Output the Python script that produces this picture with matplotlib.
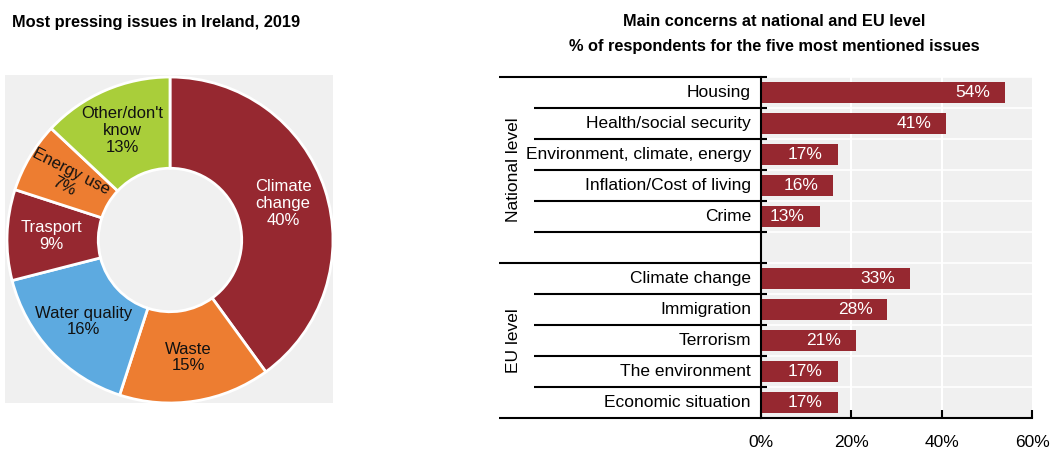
import matplotlib
matplotlib.use("Agg")
import matplotlib.pyplot as plt
import matplotlib.transforms as mtransforms
from matplotlib.patches import Rectangle
import numpy as np

plt.rcParams["font.family"] = ["Liberation Sans Narrow", "Liberation Sans", "DejaVu Sans"]

# left panel: share of respondents naming each issue as most pressing
pie_labels = ["Climate\nchange", "Waste", "Water quality", "Trasport", "Energy use", "Other/don't\nknow"]
pie_values = [40, 15, 16, 9, 7, 13]
pie_colors = ["#962830", "#ED7D31", "#5DAAE0", "#962830", "#ED7D31", "#A9CE3A"]
pie_text_colors = ["white", "#111111", "#111111", "white", "#111111", "#111111"]
pie_text_rot = [0, 0, 0, 0, -27, 0]

# right panel: top five concerns at national and EU level
national_issues = ["Housing", "Health/social security", "Environment, climate, energy",
                   "Inflation/Cost of living", "Crime"]
national_values = [54, 41, 17, 16, 13]
eu_issues = ["Climate change", "Immigration", "Terrorism", "The environment", "Economic situation"]
eu_values = [33, 28, 21, 17, 17]
x_ticks = [0, 20, 40, 60]

RED = "#962830"
GREY_BG = "#F0F0F0"
W, H = 1051, 449

fig = plt.figure(figsize=(W / 100, H / 100), dpi=100)


def px_rect(x0, y0, x1, y1):
    """figure-fraction rect from pixel box (top-left origin)"""
    return [x0 / W, 1 - y1 / H, (x1 - x0) / W, (y1 - y0) / H]


# ---- donut ----
R_PX = 163.0
axp = fig.add_axes(px_rect(0, 70, 340, 410))
wedges, _ = axp.pie(pie_values, colors=pie_colors, startangle=90, counterclock=False,
                    radius=1.0, wedgeprops=dict(width=0.56, edgecolor="white", linewidth=2))
lim = 170 / R_PX
axp.set_xlim(-lim, lim)
axp.set_ylim(-lim, lim)
axp.set_aspect("equal")
axp.axis("off")
axp.add_patch(Rectangle((-165 / R_PX, -163 / R_PX), 328 / R_PX, 328 / R_PX,
                        facecolor=GREY_BG, edgecolor="none", zorder=0))
for w, lab, v, tc, rot in zip(wedges, pie_labels, pie_values, pie_text_colors, pie_text_rot):
    ang = np.deg2rad((w.theta1 + w.theta2) / 2)
    r = 0.73
    axp.text(r * np.cos(ang), r * np.sin(ang), f"{lab}\n{v}%", ha="center", va="center",
             color=tc, fontsize=12, rotation=rot, linespacing=1.15)

fig.text(12 / W, 1 - 22 / H, "Most pressing issues in Ireland, 2019", ha="left", va="center",
         fontsize=11.8, fontweight="bold")

# ---- bars ----
labels = national_issues + [""] + eu_issues
values = national_values + [np.nan] + eu_values
ypos = np.arange(len(labels))

ax = fig.add_axes(px_rect(761, 77, 1032, 418))
ax.set_facecolor(GREY_BG)
ax.set_xlim(0, 60)
ax.set_ylim(len(labels) - 0.5, -0.5)

for xv in x_ticks[1:-1]:
    ax.axvline(xv, color="white", lw=1.5, zorder=0)
for b in np.arange(len(labels) + 1) - 0.5:
    ax.axhline(b, color="white", lw=1.2, zorder=0)

ax.barh(ypos, values, height=0.65, color=RED, zorder=2)
for y, v in zip(ypos, values):
    if np.isnan(v):
        continue
    ax.text(v - 3.3, y, f"{v:.0f}%", ha="right", va="center", color="white",
            fontsize=12.5, zorder=3)

for s in ["top", "right"]:
    ax.spines[s].set_visible(False)
ax.spines["left"].set_linewidth(1.5)
ax.spines["bottom"].set_linewidth(1.5)
ax.set_yticks([])
ax.set_xticks(x_ticks)
ax.set_xticklabels([f"{t}%" for t in x_ticks])
ax.tick_params(axis="x", direction="in", length=6, width=1.5, pad=12, labelsize=12.5)

# category labels and black row separators in the label column
trans = mtransforms.blended_transform_factory(ax.transAxes, ax.transData)
ax_w = 271.0
x_lab = -10 / ax_w
x_inner = (534 - 761) / ax_w
x_outer = (499 - 761) / ax_w
x_tick_end = 6 / ax_w
for y, lab in zip(ypos, labels):
    ax.text(x_lab, y, lab, transform=trans, ha="right", va="center", fontsize=12.5)

n_nat = len(national_issues) + 1
bounds = np.arange(len(labels) + 1) - 0.5
for i, b in enumerate(bounds):
    start = x_outer if i in (0, n_nat, len(labels)) else x_inner
    end = x_tick_end if i != len(labels) else 0
    ax.plot([start, end], [b, b], transform=trans, color="black", lw=1.5,
            clip_on=False, solid_capstyle="butt", zorder=4)

ax.text((513 - 761) / ax_w, (bounds[0] + bounds[n_nat]) / 2, "National level", transform=trans,
        rotation=90, ha="center", va="center", fontsize=12.5)
ax.text((513 - 761) / ax_w, (bounds[n_nat] + bounds[-1]) / 2, "EU level", transform=trans,
        rotation=90, ha="center", va="center", fontsize=12.5)

fig.text(774 / W, 1 - 22 / H, "Main concerns at national and EU level", ha="center",
         va="center", fontsize=11.8, fontweight="bold")
fig.text(774 / W, 1 - 47 / H, "% of respondents for the five most mentioned issues",
         ha="center", va="center", fontsize=11.8, fontweight="bold")

fig.savefig("out.png", dpi=100)
